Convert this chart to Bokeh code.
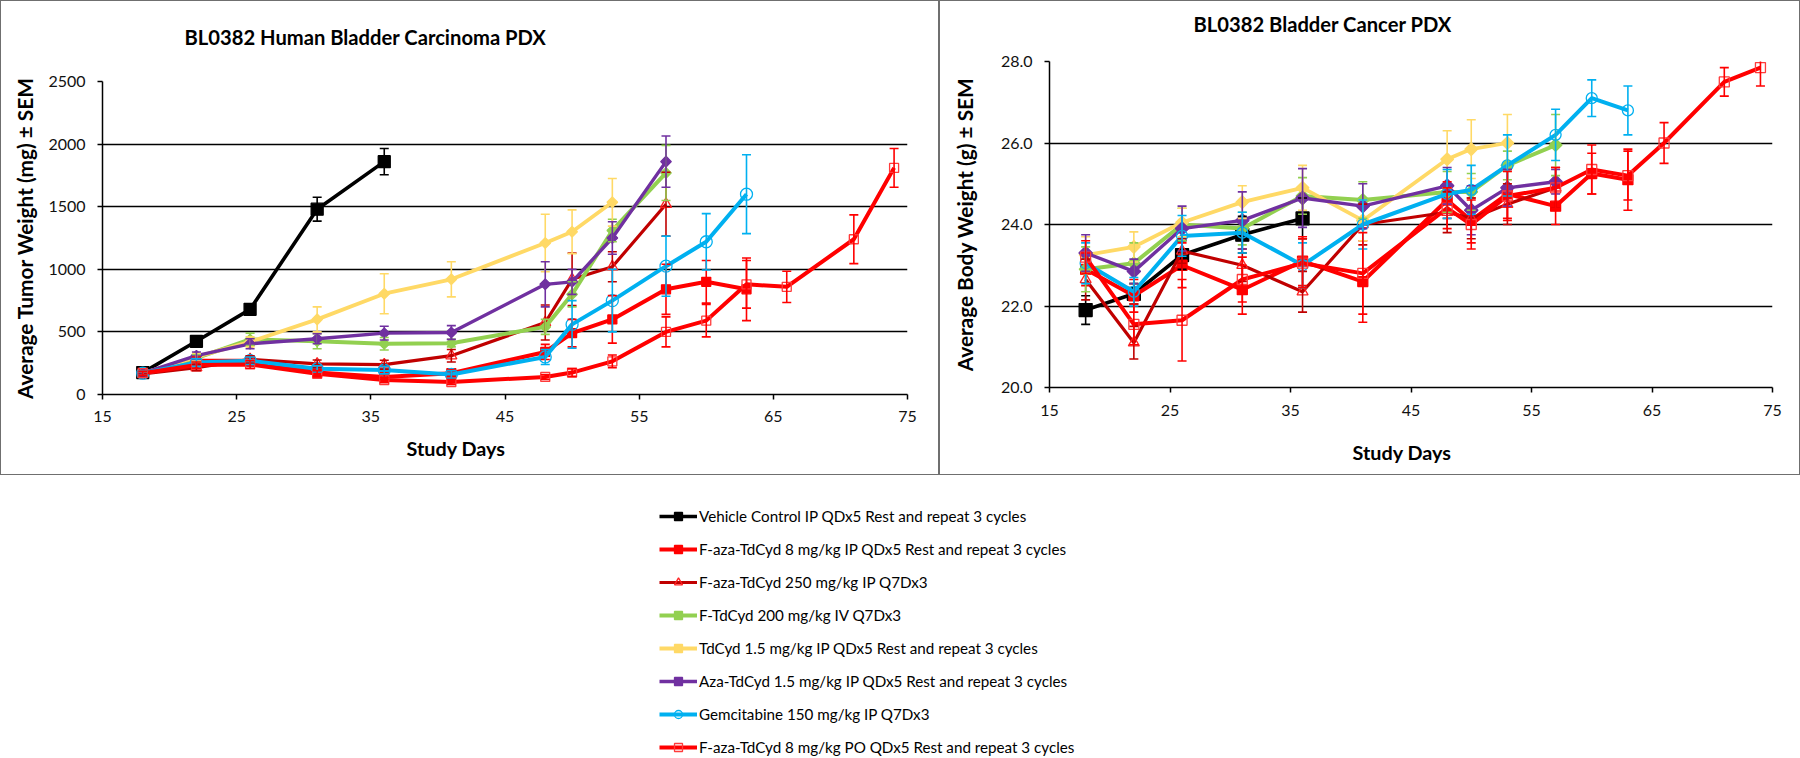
import numpy as np
from bokeh.plotting import figure
from bokeh.models import (ColumnDataSource, Range1d, FixedTicker, Whisker, TeeHead, Title,
                          Legend, LegendItem, PrintfTickFormatter, LinearAxis)
from bokeh.layouts import column, row
from bokeh.embed import file_html
from bokeh.resources import INLINE

FONT = "Lato"

# ---------------- data ----------------
DAYS = [18, 22, 26, 31, 36, 41, 48, 50, 53, 57, 60, 63, 66, 71, 74]
X_TICKS = [15, 25, 35, 45, 55, 65, 75]
TW_TICKS = [0, 500, 1000, 1500, 2000, 2500]
BW_TICKS = [20, 22, 24, 26, 28]

NAMES = [
    "Vehicle Control IP QDx5 Rest and repeat 3 cycles",
    "F-aza-TdCyd 8 mg/kg IP QDx5 Rest and repeat 3 cycles",
    "F-aza-TdCyd 250 mg/kg IP Q7Dx3",
    "F-TdCyd 200 mg/kg IV Q7Dx3",
    "TdCyd 1.5 mg/kg IP QDx5 Rest and repeat 3 cycles",
    "Aza-TdCyd 1.5 mg/kg IP QDx5 Rest and repeat 3 cycles",
    "Gemcitabine 150 mg/kg IP Q7Dx3",
    "F-aza-TdCyd 8 mg/kg PO QDx5 Rest and repeat 3 cycles",
]

# Average tumor weight (mg), values by study day (first n days of DAYS)
vehicle_tw = [175, 425, 680, 1480, 1860]
vehicle_tw_sem = [15, 35, 40, 95, 105]
ip8_tw = [175, 270, 270, 175, 140, 170, 340, 490, 600, 840, 900, 840]
ip8_tw_sem = [15, 30, 30, 25, 20, 25, 60, 110, 190, 200, 170, 250]
aza250_tw = [165, 215, 280, 245, 238, 310, 575, 920, 1020, 1520]
aza250_tw_sem = [15, 25, 30, 30, 35, 50, 140, 210, 120, 255]
ftdcyd_tw = [170, 290, 440, 425, 405, 410, 540, 800, 1310, 1770]
ftdcyd_tw_sem = [15, 30, 50, 60, 50, 30, 60, 100, 90, 220]
tdcyd_tw = [170, 300, 420, 600, 805, 920, 1210, 1300, 1535]
tdcyd_tw_sem = [15, 30, 40, 100, 160, 140, 230, 175, 190]
azatd_tw = [170, 310, 405, 445, 490, 495, 880, 900, 1250, 1860]
azatd_tw_sem = [15, 30, 40, 40, 55, 55, 180, 100, 130, 205]
gem_tw = [170, 255, 270, 205, 195, 160, 300, 560, 750, 1025, 1220, 1600]
gem_tw_sem = [15, 30, 30, 25, 30, 30, 60, 190, 250, 240, 225, 315]
po8_tw = [170, 235, 240, 165, 115, 100, 140, 175, 265, 500, 590, 880, 860, 1240, 1810]
po8_tw_sem = [15, 25, 30, 25, 20, 20, 20, 30, 50, 120, 130, 190, 125, 195, 155]

# Average body weight (g)
vehicle_bw = [21.9, 22.3, 23.25, 23.75, 24.15]
vehicle_bw_sem = [0.35, 0.25, 0.35, 0.45, 0.5]
ip8_bw = [22.9, 22.25, 23.0, 22.4, 23.1, 22.6, 24.6, 24.1, 24.75, 24.45, 25.25, 25.1]
ip8_bw_sem = [0.4, 0.4, 0.55, 0.6, 0.6, 1.0, 0.45, 0.55, 0.6, 0.45, 0.5, 0.75]
aza250_bw = [22.65, 21.1, 23.35, 23.0, 22.35, 24.0, 24.3, 24.15, 24.5, 24.9]
aza250_bw_sem = [0.5, 0.4, 0.3, 0.4, 0.5, 0.5, 0.5, 0.5, 0.5, 0.5]
ftdcyd_bw = [22.9, 23.05, 24.0, 23.9, 24.7, 24.6, 24.8, 24.8, 25.45, 25.95]
ftdcyd_bw_sem = [0.55, 0.5, 0.4, 0.4, 0.45, 0.45, 0.5, 0.45, 0.35, 0.75]
tdcyd_bw = [23.25, 23.45, 24.05, 24.55, 24.9, 24.1, 25.6, 25.85, 26.0]
tdcyd_bw_sem = [0.45, 0.37, 0.35, 0.4, 0.55, 0.5, 0.7, 0.72, 0.7]
azatd_bw = [23.3, 22.85, 23.9, 24.1, 24.65, 24.45, 24.95, 24.35, 24.9, 25.05]
azatd_bw_sem = [0.45, 0.3, 0.55, 0.7, 0.72, 0.55, 0.45, 0.6, 0.45, 0.3]
gem_bw = [23.05, 22.35, 23.72, 23.8, 23.0, 24.0, 24.75, 24.85, 25.45, 26.2, 27.1, 26.8]
gem_bw_sem = [0.5, 0.35, 0.5, 0.5, 0.55, 0.6, 0.6, 0.6, 0.75, 0.63, 0.45, 0.6]
po8_bw = [23.2, 21.55, 21.65, 22.65, 23.05, 22.8, 24.4, 24.0, 24.7, 24.9, 25.35, 25.2, 26.0, 27.5, 27.85]
po8_bw_sem = [0.4, 0.5, 1.0, 0.55, 0.6, 1.0, 0.5, 0.6, 0.6, 0.5, 0.6, 0.6, 0.5, 0.35, 0.45]

TW = [(vehicle_tw, vehicle_tw_sem), (ip8_tw, ip8_tw_sem), (aza250_tw, aza250_tw_sem),
      (ftdcyd_tw, ftdcyd_tw_sem), (tdcyd_tw, tdcyd_tw_sem), (azatd_tw, azatd_tw_sem),
      (gem_tw, gem_tw_sem), (po8_tw, po8_tw_sem)]
BW = [(vehicle_bw, vehicle_bw_sem), (ip8_bw, ip8_bw_sem), (aza250_bw, aza250_bw_sem),
      (ftdcyd_bw, ftdcyd_bw_sem), (tdcyd_bw, tdcyd_bw_sem), (azatd_bw, azatd_bw_sem),
      (gem_bw, gem_bw_sem), (po8_bw, po8_bw_sem)]

# ---------------- styles ----------------
D45 = np.pi / 4
STYLES = [
    dict(color="#000000", lw=3.6, marker="square", size=12, size_r=13, fill="#000000", mline="#000000", angle=0),
    dict(color="#FF0000", lw=4.0, marker="square", size=9, size_r=10, fill="#FF0000", mline="#FF0000", angle=0),
    dict(color="#C00000", lw=3.2, marker="triangle", size=11, size_r=11, fill=None, mline="#FF2020", angle=0),
    dict(color="#92D050", lw=4.0, marker="square", size=7.5, size_r=9, fill="#92D050", mline="#92D050", angle=D45),
    dict(color="#FFD966", lw=3.8, marker="square", size=7.5, size_r=9, fill="#FFD966", mline="#FFD966", angle=D45),
    dict(color="#7030A0", lw=3.4, marker="square", size=7.5, size_r=9.5, fill="#7030A0", mline="#7030A0", angle=D45),
    dict(color="#00B0F0", lw=4.0, marker="circle", size=12, size_r=11, fill=None, mline="#00B0F0", angle=0),
    dict(color="#FF0000", lw=4.0, marker="square", size=9, size_r=10, fill=None, mline="#FF3B3B", angle=0),
]

PANEL_CSS = {"outline": "1px solid #6f6f6f", "outline-offset": "-1px"}


def spacer_axis(gap):
    # an axis with a single blank tick and no line: it only reserves `gap` pixels
    return LinearAxis(ticker=FixedTicker(ticks=[15]), major_label_overrides={15: ""},
                      major_label_text_font_size="0px", major_label_standoff=0,
                      major_tick_out=gap, major_tick_in=0, minor_tick_out=0, minor_tick_in=0,
                      axis_line_color=None, major_tick_line_color="#ffffff",
                      minor_tick_line_color=None)


def make_panel(width, height, mb, yr, yticks, ylabel, ylabel_standoff, xtick_standoff,
               title, title_offset, title_gap, xlabel_offset, xlabel_gap):
    p = figure(width=width, height=height, x_range=Range1d(15, 75), y_range=Range1d(*yr),
               toolbar_location=None, output_backend="svg",
               min_border_left=mb[0], min_border_right=mb[1],
               min_border_top=mb[2], min_border_bottom=mb[3], styles=PANEL_CSS)
    p.frame_align = False
    p.border_fill_color = None
    p.outline_line_color = None
    p.xgrid.grid_line_color = None
    p.ygrid.grid_line_color = "#000000"
    p.ygrid.grid_line_width = 1.6
    p.ygrid.ticker = FixedTicker(ticks=yticks)
    for ax in p.axis:
        ax.axis_line_color = "#000000"
        ax.axis_line_width = 1.5
        ax.major_tick_line_color = "#000000"
        ax.major_tick_line_width = 1.5
        ax.major_tick_in = 0
        ax.major_tick_out = 5
        ax.minor_tick_line_color = None
        ax.major_label_text_font = FONT
        ax.major_label_text_font_size = "16px"
        ax.major_label_text_color = "#111111"
        ax.major_label_standoff = 11
    p.xaxis.ticker = FixedTicker(ticks=X_TICKS)
    p.xaxis.major_label_standoff = xtick_standoff
    p.yaxis.ticker = FixedTicker(ticks=yticks)
    p.yaxis.major_label_standoff = 12
    p.yaxis.axis_label = ylabel
    p.yaxis.axis_label_text_font = FONT
    p.yaxis.axis_label_text_font_style = "bold"
    p.yaxis.axis_label_text_font_size = "20.8px"
    p.yaxis.axis_label_text_color = "#000000"
    p.yaxis.axis_label_standoff = ylabel_standoff

    # chart title (above) and x-axis title (below), pushed out by spacer axes
    p.add_layout(spacer_axis(title_gap), "above")
    p.add_layout(Title(text=title, text_font=FONT, text_font_size="20.2px",
                       text_font_style="bold", text_color="#000000", align="left",
                       vertical_align="top", offset=title_offset, standoff=0), "above")
    p.add_layout(spacer_axis(xlabel_gap), "below")
    p.add_layout(Title(text="Study Days", text_font=FONT, text_font_size="19.8px",
                       text_font_style="bold", text_color="#000000", align="left",
                       vertical_align="middle", offset=xlabel_offset, standoff=0), "below")
    return p


def series_source(vals, sems):
    n = len(vals)
    return ColumnDataSource(dict(
        x=DAYS[:n], y=vals,
        upper=[v + s for v, s in zip(vals, sems)],
        lower=[v - s for v, s in zip(vals, sems)]))


def draw(p, data, right=False):
    for (vals, sems), st in zip(data, STYLES):
        src = series_source(vals, sems)
        w = Whisker(source=src, base="x", upper="upper", lower="lower", dimension="height",
                    line_color=st["color"], line_width=1.6, level="glyph",
                    upper_head=TeeHead(size=9, line_color=st["color"], line_width=1.6),
                    lower_head=TeeHead(size=9, line_color=st["color"], line_width=1.6))
        p.add_layout(w)
        p.line("x", "y", source=src, line_color=st["color"], line_width=st["lw"],
               line_join="round")
        p.scatter("x", "y", source=src, marker=st["marker"],
                  size=st["size_r"] if right else st["size"], angle=st["angle"],
                  fill_color=st["fill"], line_color=st["mline"], line_width=1.3)


# Left panel: tumor weight
p1 = make_panel(939, 475, (102, 32, 81, 81), (0, 2500), TW_TICKS,
                "Average Tumor Weight (mg) \u00b1 SEM", 8, 11,
                "BL0382 Human Bladder Carcinoma PDX", 82, 31, 304, 10)
draw(p1, TW)

# Right panel: body weight
p2 = make_panel(861, 475, (110, 28, 61, 88), (20, 28), BW_TICKS,
                "Average Body Weight (g) \u00b1 SEM", 21, 12,
                "BL0382 Bladder Cancer PDX", 144, 24, 303, 20)
p2.yaxis.formatter = PrintfTickFormatter(format="%.1f")
draw(p2, BW, right=True)

# Legend panel (proxy renderers sit outside the visible range of this panel)
p3 = figure(width=1800, height=283, x_range=Range1d(0, 1), y_range=Range1d(0, 1),
            toolbar_location=None, output_backend="svg", min_border=0)
p3.axis.visible = False
p3.grid.visible = False
p3.outline_line_color = None
items = []
for name, (vals, sems), st in zip(NAMES, TW, STYLES):
    src = series_source(vals, sems)
    lr = p3.line("x", "y", source=src, line_color=st["color"], line_width=st["lw"])
    sr = p3.scatter("x", "y", source=src, marker=st["marker"], size=st["size"], angle=st["angle"],
                    fill_color=st["fill"], line_color=st["mline"], line_width=1.3)
    items.append(LegendItem(label=name, renderers=[lr, sr]))
legend = Legend(items=items, location=(659, 1), orientation="vertical",
                glyph_width=38, glyph_height=20, label_height=20, label_standoff=2,
                spacing=13, padding=0, margin=0, border_line_color=None,
                background_fill_alpha=0, label_text_font=FONT, label_text_font_size="15.2px",
                label_text_color="#000000")
p3.add_layout(legend, "center")

layout = column(row(p1, p2), p3)
with open("out.html", "w") as f:
    f.write(file_html(layout, INLINE))
